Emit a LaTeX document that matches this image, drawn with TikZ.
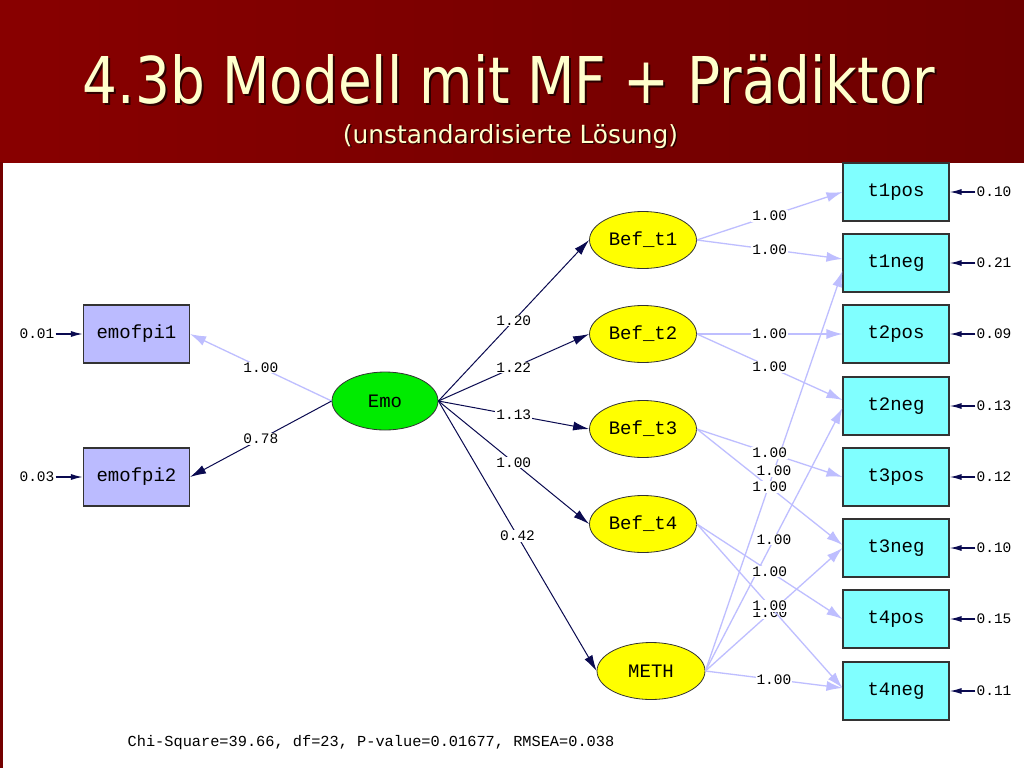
\documentclass[tikz,border=0pt]{standalone}
\usepackage{fontspec}
\usetikzlibrary{arrows.meta,shapes.geometric}
\newfontfamily\titlefont{DejaVu Sans}
\newfontfamily\lisfont{Liberation Mono}
\definecolor{hdrL}{RGB}{136,0,0}
\definecolor{hdrR}{RGB}{110,0,0}
\definecolor{cream}{RGB}{255,255,204}
\definecolor{lisnavy}{RGB}{10,10,80}
\definecolor{lav}{RGB}{190,190,255}
\definecolor{lavbox}{RGB}{187,187,255}
\definecolor{cyanbox}{RGB}{128,255,255}
\definecolor{emogreen}{RGB}{0,235,0}
\definecolor{befyellow}{RGB}{255,255,0}
\begin{document}
\begin{tikzpicture}[x=1pt,y=-1pt,
  obs/.style={draw=black!80, line width=1.1pt, minimum width=106pt, minimum height=58pt, inner sep=0pt, font=\lisfont\fontsize{19}{19}\selectfont},
  lat/.style={ellipse, draw=black!80, line width=0.8pt, inner sep=0pt, minimum width=107pt, minimum height=57pt, fill=befyellow, font=\lisfont\fontsize{19}{19}\selectfont},
  coef/.style={fill=white, inner sep=1pt, font=\lisfont\fontsize{14.5}{14.5}\selectfont, text=black},
  errtxt/.style={inner sep=1pt, font=\lisfont\fontsize{14.5}{14.5}\selectfont},
  lightarr/.style={draw=lav, line width=1.3pt, -{Latex[length=16pt,width=10pt]}},
  darkarr/.style={draw=lisnavy, line width=1pt, -{Latex[length=16pt,width=9pt]}},
  errarr/.style={draw=lisnavy, line width=1.4pt, -{Latex[length=12pt,width=6pt]}},
]
\useasboundingbox (0,0) rectangle (1024,768);
\fill[white] (0,0) rectangle (1024,768);
\shade[left color=hdrL, right color=hdrR] (0,0) rectangle (1024,162);
\fill[hdrL!85!black] (0,162) rectangle (2.5,768);

% title
\node (titleshadow) [anchor=base, inner sep=0pt, text=black, opacity=0.65] at (511,105) {\resizebox{852pt}{49pt}{\titlefont 4.3b Modell mit MF + Prädiktor}};
\node (title) [anchor=base, inner sep=0pt, text=cream] at (509,103) {\resizebox{852pt}{49pt}{\titlefont 4.3b Modell mit MF + Prädiktor}};
\node (subshadow) [anchor=base, inner sep=0pt, text=black, opacity=0.65] at (512,144.5) {\resizebox{335pt}{19pt}{\titlefont (unstandardisierte Lösung)}};
\node (sub) [anchor=base, inner sep=0pt, text=cream] at (510.5,143) {\resizebox{335pt}{19pt}{\titlefont (unstandardisierte Lösung)}};

% observed, left
\node[obs, fill=lavbox] (p1) at (136.5,334) {emofpi1};
\node[obs, fill=lavbox] (p2) at (136.5,477) {emofpi2};
% latent
\node[lat, fill=emogreen, minimum width=106pt, minimum height=58pt] (emo) at (385,401) {Emo};
\node[lat] (b1) at (643,240) {Bef\_t1};
\node[lat] (b2) at (643,334) {Bef\_t2};
\node[lat] (b3) at (643,429) {Bef\_t3};
\node[lat] (b4) at (643,524) {Bef\_t4};
\node[lat, minimum width=108pt] (meth) at (651,671) {METH};
% observed, right
\node[obs, fill=cyanbox] (t1p) at (896,192) {t1pos};
\node[obs, fill=cyanbox] (t1n) at (896,263) {t1neg};
\node[obs, fill=cyanbox] (t2p) at (896,334) {t2pos};
\node[obs, fill=cyanbox] (t2n) at (896,406) {t2neg};
\node[obs, fill=cyanbox] (t3p) at (896,477) {t3pos};
\node[obs, fill=cyanbox] (t3n) at (896,548) {t3neg};
\node[obs, fill=cyanbox] (t4p) at (896,619) {t4pos};
\node[obs, fill=cyanbox] (t4n) at (896,691) {t4neg};

% error terms
\node[errtxt] (e1) at (37,334) {0.01};
\node[errtxt] (e2) at (37,477) {0.03};
\draw[errarr] (e1) -- (p1);
\draw[errarr] (e2) -- (p2);
\node[errtxt] (f1) at (994,192) {0.10};
\node[errtxt] (f2) at (994,263) {0.21};
\node[errtxt] (f3) at (994,334) {0.09};
\node[errtxt] (f4) at (994,406) {0.13};
\node[errtxt] (f5) at (994,477) {0.12};
\node[errtxt] (f6) at (994,548) {0.10};
\node[errtxt] (f7) at (994,619) {0.15};
\node[errtxt] (f8) at (994,691) {0.11};
\draw[errarr] (f1) -- (t1p.east);
\draw[errarr] (f2) -- (t1n.east);
\draw[errarr] (f3) -- (t2p.east);
\draw[errarr] (f4) -- (t2n.east);
\draw[errarr] (f5) -- (t3p.east);
\draw[errarr] (f6) -- (t3n.east);
\draw[errarr] (f7) -- (t4p.east);
\draw[errarr] (f8) -- (t4n.east);

% Emo paths
\draw[lightarr] (emo.west) -- node[coef]{1.00} (p1.east);
\draw[darkarr] (emo.west) -- node[coef]{0.78} (p2.east);
\draw[darkarr] (emo.east) -- node[coef]{1.20} (b1.west);
\draw[darkarr] (emo.east) -- node[coef]{1.22} (b2.west);
\draw[darkarr] (emo.east) -- node[coef]{1.13} (b3.west);
\draw[darkarr] (emo.east) -- node[coef]{1.00} (b4.west);
\draw[darkarr] (emo.east) -- node[coef]{0.42} (meth.west);

% METH paths
\draw[lightarr] (meth.east) -- node[coef]{1.00} ([yshift=-8pt]t1n.west);
\draw[lightarr] (meth.east) -- node[coef]{1.00} ([yshift=-2pt]t2n.west);
\draw[lightarr] (meth.east) -- node[coef, pos=0.47]{1.00} (t3n.west);
\draw[lightarr] (meth.east) -- node[coef]{1.00} ([yshift=3pt]t4n.west);

% Bef paths
\draw[lightarr] (b1.east) -- node[coef]{1.00} (t1p.west);
\draw[lightarr] (b1.east) -- node[coef]{1.00} ([yshift=4pt]t1n.west);
\draw[lightarr] (b2.east) -- node[coef]{1.00} (t2p.west);
\draw[lightarr] (b2.east) -- node[coef]{1.00} ([yshift=6pt]t2n.west);
\draw[lightarr] (b3.east) -- node[coef]{1.00} (t3p.west);
\draw[lightarr] (b3.east) -- node[coef]{1.00} ([yshift=3pt]t3n.west);
\draw[lightarr] (b4.east) -- node[coef]{1.00} (t4p.west);
\draw[lightarr] (b4.east) -- node[coef]{1.00} ([yshift=3pt]t4n.west);

% fit statistics
\node (fit) [inner sep=0pt, font=\lisfont\fontsize{15.3}{15.3}\selectfont] at (371,743) {Chi-Square=39.66, df=23, P-value=0.01677, RMSEA=0.038};
\end{tikzpicture}
\end{document}
